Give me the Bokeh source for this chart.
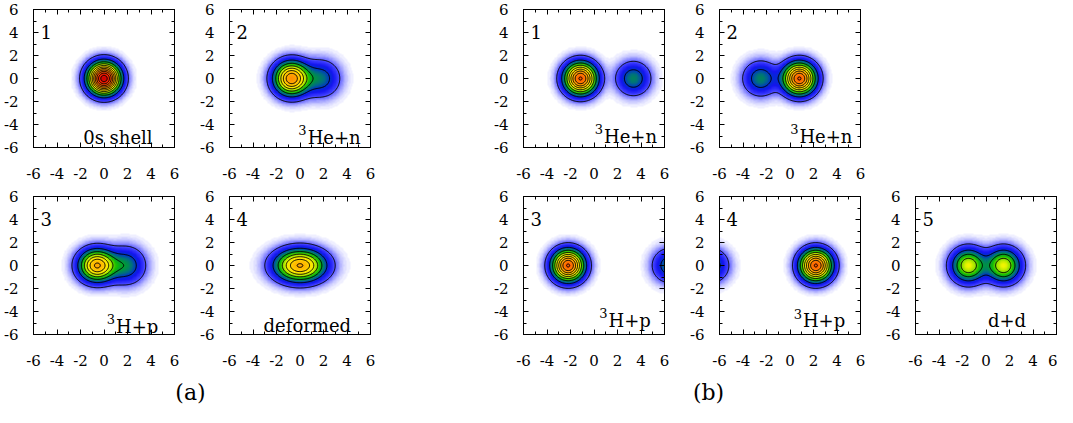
import numpy as np
from bokeh.plotting import figure
from bokeh.models import Range1d, FixedTicker, LinearAxis, LinearColorMapper, Label, Spacer
from bokeh.layouts import row, column
from bokeh.embed import file_html
from bokeh.resources import INLINE

# ---------------- data ----------------
panel_numbers = ["1", "2", "3", "4", "1", "2", "3", "4", "5"]
name_sup = ["", "3", "3", "", "3", "3", "3", "3", ""]
name_main = ["0s shell", "He+n", "H+p", "deformed",
             "He+n", "He+n", "H+p", "H+p", "d+d"]
# density components of each panel (cluster centres, peak heights, widths)
cluster_x = [[0.0], [-0.73, 1.8], [-0.6, 1.9], [0.0],
             [-1.15, 3.35], [-2.5, 0.8], [-2.2, 6.45], [2.2, -6.7], [-1.5, 1.5]]
cluster_y = [[0.0], [0.0, 0.0], [0.0, 0.0], [0.0],
             [0.0, 0.0], [0.0, 0.0], [0.0, 0.0], [0.0, 0.0], [0.0, 0.0]]
cluster_amp = [[1.0], [0.66, 0.18], [0.6, 0.2], [0.6],
               [0.78, 0.2], [0.2, 0.78], [0.78, 0.2], [0.78, 0.2], [0.4, 0.4]]
cluster_wx = [[1.2], [1.3, 1.4], [1.35, 1.4], [1.9],
              [1.22, 1.27], [1.3, 1.22], [1.2, 1.27], [1.2, 1.27], [1.3, 1.3]]
cluster_wy = [[1.2], [1.28, 1.4], [1.22, 1.4], [1.24],
              [1.22, 1.27], [1.3, 1.22], [1.2, 1.27], [1.2, 1.27], [1.3, 1.3]]
# name label anchor (left edge of main text, baseline) in data units
name_x = [-1.77, 0.65, 1.02, -3.1, 0.85, 0.8, 1.24, 1.1, 0.17]
name_y = [-5.13, -5.1, -5.3, -5.2, -5.04, -5.0, -4.77, -4.8, -4.8]
contour_levels = [0.05, 0.14, 0.23, 0.32, 0.41, 0.50, 0.59, 0.68, 0.77, 0.86, 0.95]
major_ticks = [-6, -4, -2, 0, 2, 4, 6]
minor_ticks = [-5, -3, -1, 1, 3, 5]
group_labels = ["(a)", "(b)"]

# ---------------- palette ----------------
stops = [(0.000, (255, 255, 255)), (0.010, (215, 215, 255)), (0.030, (140, 140, 255)),
         (0.060, (60, 60, 255)), (0.100, (20, 20, 240)), (0.140, (0, 50, 200)),
         (0.180, (0, 110, 130)), (0.220, (0, 150, 60)), (0.270, (20, 190, 0)),
         (0.330, (130, 220, 0)), (0.400, (240, 245, 0)), (0.480, (255, 225, 0)),
         (0.580, (255, 180, 0)), (0.700, (255, 130, 0)), (0.800, (255, 80, 0)),
         (0.900, (240, 30, 0)), (1.000, (210, 0, 0))]
sv = np.array([s[0] for s in stops])
sc = np.array([s[1] for s in stops], dtype=float)
tt = np.linspace(0, 1, 256)
palette = ["#%02x%02x%02x" % tuple(int(round(np.interp(t, sv, sc[:, k]))) for k in range(3))
           for t in tt]
mapper = LinearColorMapper(palette=palette, low=0.0, high=1.0)

N = 180
centers = -6 + (np.arange(N) + 0.5) * 12.0 / N
GX, GY = np.meshgrid(centers, centers)

FONT = "DejaVu Serif"
FW, FH = 142, 138


def density(i):
    z = np.zeros_like(GX)
    for cx, cy, a, wx, wy in zip(cluster_x[i], cluster_y[i], cluster_amp[i],
                                 cluster_wx[i], cluster_wy[i]):
        z += a * np.exp(-((GX - cx) / wx) ** 2 - ((GY - cy) / wy) ** 2)
    return z


def style_axis(ax, labels=True):
    ax.ticker = FixedTicker(ticks=major_ticks, minor_ticks=minor_ticks)
    ax.major_tick_in = 5
    ax.major_tick_out = 0
    ax.minor_tick_in = 3
    ax.minor_tick_out = 0
    ax.axis_line_color = "black"
    ax.major_tick_line_color = "black"
    ax.minor_tick_line_color = "black"
    if labels:
        ax.major_label_overrides = {t: str(t) for t in major_ticks}
        ax.major_label_text_font = FONT
        ax.major_label_text_font_size = "15px"
        ax.major_label_text_color = "black"
    else:
        ax.major_label_text_font_size = "0px"
        ax.major_label_text_color = None
        ax.major_label_standoff = 0


def panel(i, L, R, T, B):
    p = figure(width=L + FW + R, height=T + FH + B,
               x_range=Range1d(-6, 6), y_range=Range1d(-6, 6),
               output_backend="svg", toolbar_location=None,
               min_border_left=L, min_border_right=R,
               min_border_top=T, min_border_bottom=B)
    p.grid.visible = False
    p.outline_line_color = "black"
    p.outline_line_width = 1
    p.background_fill_color = "white"
    p.border_fill_color = "white"
    z = density(i)
    p.image(image=[z], x=-6, y=-6, dw=12, dh=12, color_mapper=mapper, level="image")
    p.contour(x=centers, y=centers, z=z, levels=contour_levels,
              line_color="black", line_width=1)
    style_axis(p.xaxis[0])
    style_axis(p.yaxis[0])
    p.xaxis[0].major_label_standoff = 20
    p.yaxis[0].major_label_standoff = 15
    top = LinearAxis()
    style_axis(top, labels=False)
    right = LinearAxis()
    style_axis(right, labels=False)
    p.add_layout(top, "above")
    p.add_layout(right, "right")
    p.add_layout(Label(x=-5.4, y=4.05, text=panel_numbers[i], text_font=FONT,
                       text_font_size="18px", text_color="black",
                       text_align="left", text_baseline="alphabetic"))
    p.add_layout(Label(x=name_x[i], y=name_y[i], text=name_main[i], text_font=FONT,
                       text_font_size="18px", text_color="black",
                       text_align="left", text_baseline="alphabetic"))
    if name_sup[i]:
        p.add_layout(Label(x=name_x[i], y=name_y[i], y_offset=7, x_offset=-1,
                           text=name_sup[i], text_font=FONT,
                           text_font_size="13px", text_color="black",
                           text_align="right", text_baseline="alphabetic"))
    return p


L, R = 32, 22
T1, B1, T2, B2 = 9, 41, 8, 39
H1, H2 = T1 + FH + B1, T2 + FH + B2
GAP = 98

a1 = panel(0, L, R, T1, B1)
a2 = panel(1, L, R, T1, B1)
b1 = panel(4, L, R, T1, B1)
b2 = panel(5, L, R, T1, B1)
a3 = panel(2, L, R, T2, B2)
a4 = panel(3, L, R, T2, B2)
b3 = panel(6, L, R, T2, B2)
b4 = panel(7, L, R, T2, B2)
b5 = panel(8, L, 1, T2, B2)

r1 = row(a1, a2, Spacer(width=GAP, height=H1), b1, b2)
r2 = row(a3, a4, Spacer(width=GAP, height=H2), b3, b4, b5)

TOTAL_W = 4 * (L + FW + R) + GAP + (L + FW + 1)
LAB_H = 34
lab = figure(width=TOTAL_W, height=LAB_H, x_range=Range1d(0, TOTAL_W), y_range=Range1d(0, LAB_H),
             output_backend="svg", toolbar_location=None,
             x_axis_location=None, y_axis_location=None,
             min_border_left=0, min_border_right=0, min_border_top=0, min_border_bottom=0)
lab.grid.visible = False
lab.outline_line_color = None
lab.add_layout(Label(x=190, y=15, text=group_labels[0], text_font=FONT, text_font_size="22px",
                     text_align="center", text_baseline="middle", text_color="black"))
lab.add_layout(Label(x=708, y=15, text=group_labels[1], text_font=FONT, text_font_size="22px",
                     text_align="center", text_baseline="middle", text_color="black"))

layout = column(r1, r2, lab)
open("out.html", "w").write(file_html(layout, INLINE))
